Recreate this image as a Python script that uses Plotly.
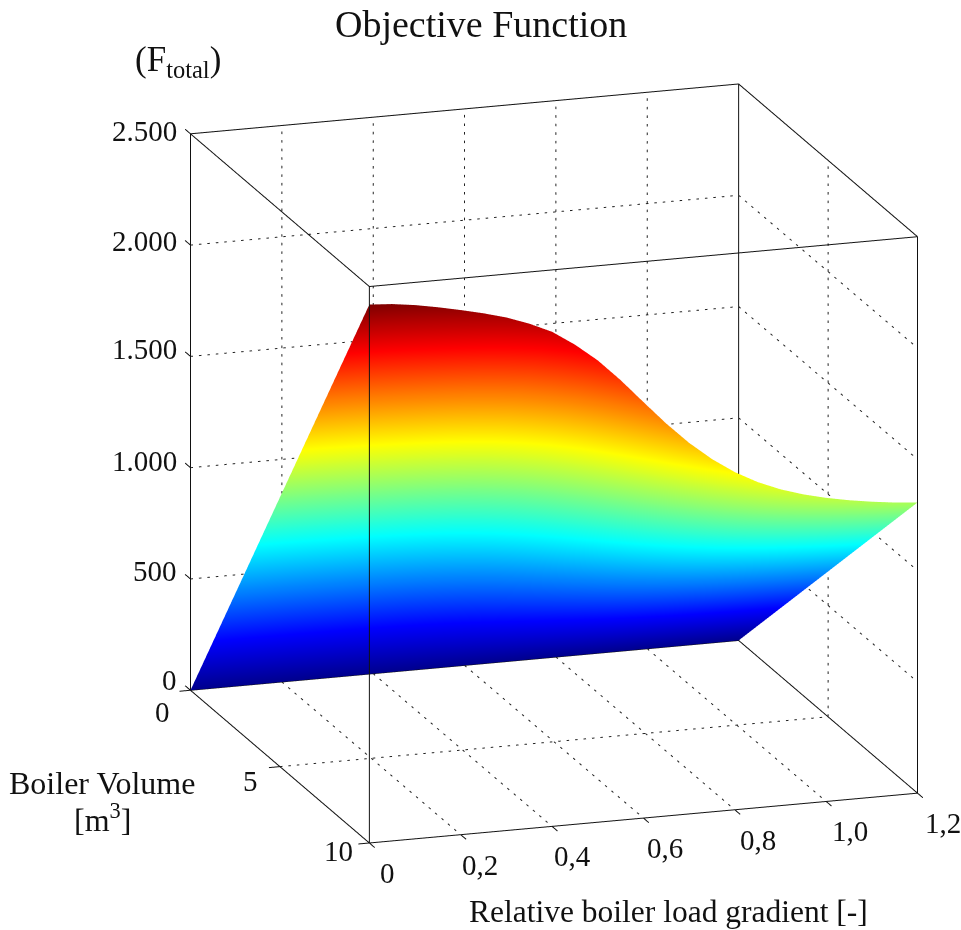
import plotly.graph_objects as go

# ---- data ----
gradient = [0, .05, .1, .15, .2, .25, .3, .35, .4, .45, .5, .55, .6, .65, .7, .75, .8, .85, .9, .95, 1.0, 1.05, 1.1, 1.15, 1.2]
volume = [0, 5, 10]
f_at_v0 = [0] * 25
f_at_v5 = [1210, 1206, 1199, 1190, 1179, 1167, 1153, 1134, 1111, 1078, 1038, 989, 935, 882, 834, 793, 759, 732, 711, 695, 682, 672, 664, 658, 653]
f_at_v10 = [2419, 2412, 2398, 2379, 2357, 2333, 2305, 2268, 2222, 2155, 2075, 1977, 1869, 1763, 1667, 1585, 1517, 1463, 1421, 1389, 1364, 1344, 1328, 1315, 1306]

x_ticks = [0, 0.2, 0.4, 0.6, 0.8, 1.0, 1.2]
x_labels = ["0", "0,2", "0,4", "0,6", "0,8", "1,0", "1,2"]
y_ticks = [0, 5, 10]
y_labels = ["0", "5", "10"]
z_ticks = [0, 500, 1000, 1500, 2000, 2500]
z_labels = ["0", "500", "1.000", "1.500", "2.000", "2.500"]

X0, X1 = x_ticks[0], x_ticks[-1]
Y0, Y1 = y_ticks[0], y_ticks[-1]
Z0, Z1 = z_ticks[0], z_ticks[-1]

JET = [[0, "#00008f"], [0.125, "#0000ff"], [0.375, "#00ffff"], [0.625, "#ffff00"], [0.875, "#ff0000"], [1, "#800000"]]
FONT = "Liberation Serif"
TICK_SIZE = 29
INK = "#111111"


def segments(pairs):
    xs, ys, zs = [], [], []
    for a, b in pairs:
        xs += [a[0], b[0], None]
        ys += [a[1], b[1], None]
        zs += [a[2], b[2], None]
    return xs, ys, zs


def dotted(a, b, count):
    """Cut a grid line into short pieces so it reads as dots."""
    out = []
    for i in range(count):
        s0, s1 = i / count, (i + 0.3) / count
        out.append((tuple(p + (q - p) * s0 for p, q in zip(a, b)),
                    tuple(p + (q - p) * s1 for p, q in zip(a, b))))
    return out


# dotted grid on the two back walls and the floor
grid = []
for x in x_ticks[1:-1]:
    grid += dotted((x, Y0, Z0), (x, Y0, Z1), 65)
    grid += dotted((x, Y0, Z0), (x, Y1, Z0), 28)
for y in y_ticks[1:-1]:
    grid += dotted((X1, y, Z0), (X1, y, Z1), 65)
    grid += dotted((X0, y, Z0), (X1, y, Z0), 65)
for z in z_ticks[1:-1]:
    grid += dotted((X0, Y0, z), (X1, Y0, z), 65)
    grid += dotted((X1, Y0, z), (X1, Y1, z), 28)

# solid box
box = [
    ((X0, Y0, Z0), (X1, Y0, Z0)), ((X0, Y1, Z0), (X1, Y1, Z0)),
    ((X0, Y0, Z1), (X1, Y0, Z1)), ((X0, Y1, Z1), (X1, Y1, Z1)),
    ((X0, Y0, Z0), (X0, Y1, Z0)), ((X1, Y0, Z0), (X1, Y1, Z0)),
    ((X0, Y0, Z1), (X0, Y1, Z1)), ((X1, Y0, Z1), (X1, Y1, Z1)),
    ((X0, Y0, Z0), (X0, Y0, Z1)), ((X0, Y1, Z0), (X0, Y1, Z1)),
    ((X1, Y0, Z0), (X1, Y0, Z1)), ((X1, Y1, Z0), (X1, Y1, Z1)),
]
# tick marks
dx, dy = (X1 - X0) * 0.02, (Y1 - Y0) * 0.03
for x in x_ticks:
    box.append(((x, Y1, Z0), (x, Y1 + dy, Z0)))
for y in y_ticks:
    box.append(((X0, y, Z0), (X0 - dx, y, Z0)))
for z in z_ticks:
    box.append(((X0, Y0, z), (X0, Y0 - dy, z)))

fig = go.Figure()
fig.add_trace(go.Surface(
    x=gradient, y=volume, z=[f_at_v0, f_at_v5, f_at_v10],
    colorscale=JET, cmin=0, cmax=max(f_at_v10), showscale=False,
    lighting=dict(ambient=1, diffuse=0, specular=0, roughness=1, fresnel=0),
    hoverinfo="skip",
))
gx, gy, gz = segments(grid)
fig.add_trace(go.Scatter3d(x=gx, y=gy, z=gz, mode="lines", hoverinfo="skip",
                           line=dict(color="#222222", width=2), showlegend=False))
bx, by, bz = segments(box)
fig.add_trace(go.Scatter3d(x=bx, y=by, z=bz, mode="lines", hoverinfo="skip",
                           line=dict(color="#111111", width=2), showlegend=False))


def tick_note(x, y, z, text, xshift, yshift, xanchor="center"):
    return dict(x=x, y=y, z=z, text=text, showarrow=False, xshift=xshift, yshift=yshift,
                xanchor=xanchor, yanchor="middle",
                font=dict(family=FONT, size=TICK_SIZE, color=INK))


notes = []
for x, t in zip(x_ticks, x_labels):
    notes.append(tick_note(x, Y1, Z0, t, 18 + 6 * x, -30))
for y, t, off in zip(y_ticks, y_labels, [(-28, -22), (-29, -14), (-31, -8)]):
    notes.append(tick_note(X0, y, Z0, t, off[0], off[1]))
for z, t, up in zip(z_ticks, z_labels, [10, 8, 7, 7, 4, 3]):
    notes.append(tick_note(X0, Y0, z, t, -12, up, xanchor="right"))


def page_note(text, px, py, size):
    return dict(text=text, x=px / 961, y=1 - py / 930, xref="paper", yref="paper", showarrow=False,
                xanchor="center", yanchor="middle", font=dict(family=FONT, size=size, color=INK))


n = 3.0
scale = 1.24
pad = 0.04  # room round the box so its edges and tick marks are not clipped
grow = 1 + 2 * pad
mx, my, mz = (X1 - X0) * pad, (Y1 - Y0) * pad, (Z1 - Z0) * pad
fig.update_layout(
    width=961, height=930,
    margin=dict(l=0, r=0, t=0, b=0),
    paper_bgcolor="white",
    showlegend=False,
    scene=dict(
        domain=dict(x=[0.153, 1], y=[0, 1]),
        xaxis=dict(range=[X0 - mx, X1 + mx], visible=False),
        yaxis=dict(range=[Y1 + my, Y0 - my], visible=False),
        zaxis=dict(range=[Z0 - mz, Z1 + mz], visible=False),
        aspectmode="manual",
        aspectratio=dict(x=scale * grow, y=scale * grow, z=1.246 * grow),
        camera=dict(
            projection=dict(type="orthographic"),
            eye=dict(x=-0.2979 * n, y=-0.9130 * n, z=0.2786 * n - 0.0034),
            center=dict(x=0, y=0, z=-0.0034),
            up=dict(x=0, y=0, z=1),
        ),
        annotations=notes,
    ),
    annotations=[
        page_note("Objective Function", 481, 24, 38),
        page_note("(F<sub>total</sub>)", 178, 62, 35),
        page_note("Boiler Volume", 102, 783, 32),
        page_note("[m<sup>3</sup>]", 102, 818, 32),
        page_note("Relative boiler load gradient [-]", 668, 911, 31.5),
    ],
)
fig.write_html("out.html", config=dict(displayModeBar=False), post_script="document.body.style.margin='0';")
